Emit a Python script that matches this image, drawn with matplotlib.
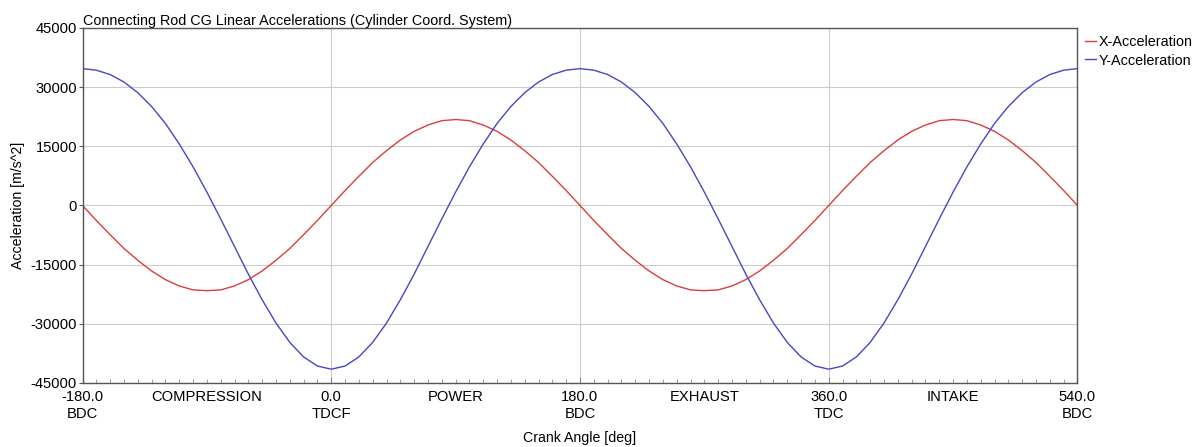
import matplotlib

matplotlib.use("Agg")
import matplotlib.pyplot as plt
import numpy as np
from matplotlib.ticker import FixedLocator, FuncFormatter

plt.rcParams["font.family"] = ["Liberation Sans", "DejaVu Sans"]

# crank angle samples (deg), read every 10 deg
crank_angle = np.arange(-180, 541, 10)

x_accel = [
    0,
    -3800, -7400, -10900, -13900, -16600, -18800, -20400, -21400, -21600,
    -21400, -20400, -18800, -16600, -13900, -10900, -7400, -3800,
    0,
    3800, 7400, 10900, 13900, 16600, 18800, 20400, 21500, 21800,
    21500, 20400, 18800, 16600, 13900, 10900, 7400, 3800,
    0,
    -3800, -7400, -10900, -13900, -16600, -18800, -20400, -21400, -21600,
    -21400, -20400, -18800, -16600, -13900, -10900, -7400, -3800,
    0,
    3800, 7400, 10900, 13900, 16600, 18800, 20400, 21500, 21800,
    21500, 20400, 18800, 16600, 13900, 10900, 7400, 3800,
    0,
]
y_accel = [
    34700, 34300, 33200, 31300, 28600, 25100, 20800, 15600, 9800,
    3400, -3400, -10400, -17400, -23900, -29800, -34700, -38400, -40700,
    -41500,
    -40700, -38400, -34700, -29800, -23900, -17400, -10400, -3400, 3400,
    9800, 15600, 20800, 25100, 28600, 31300, 33200, 34300,
    34700,
    34300, 33200, 31300, 28600, 25100, 20800, 15600, 9800, 3400,
    -3400, -10400, -17400, -23900, -29800, -34700, -38400, -40700,
    -41500,
    -40700, -38400, -34700, -29800, -23900, -17400, -10400, -3400, 3400,
    9800, 15600, 20800, 25100, 28600, 31300, 33200, 34300,
    34700,
]

major_ticks = [-180, 0, 180, 360, 540]
major_labels = ["-180.0\nBDC", "0.0\nTDCF", "180.0\nBDC", "360.0\nTDC", "540.0\nBDC"]
phase_pos = [-90, 90, 270, 450]
phase_names = ["COMPRESSION", "POWER", "EXHAUST", "INTAKE"]
y_ticks = [45000, 30000, 15000, 0, -15000, -30000, -45000]

fig = plt.figure(figsize=(11.94, 4.47), dpi=100)
ax = fig.add_axes([0.0691, 0.1432, 0.8333, 0.7942])

ax.plot(crank_angle, x_accel, color="#dc3c3c", lw=1.0, label="X-Acceleration")
ax.plot(crank_angle, y_accel, color="#4646c8", lw=1.0, label="Y-Acceleration")

ax.set_xlim(-180, 540)
ax.set_ylim(-45000, 45000)

ax.set_xticks(major_ticks)
ax.set_xticklabels(major_labels)
for lab in ax.get_xticklabels():
    lab.set_linespacing(1.3)
ax.xaxis.set_minor_locator(FixedLocator(np.arange(-170, 540, 10)))
phase_map = dict(zip(phase_pos, phase_names))
ax.xaxis.set_minor_formatter(FuncFormatter(lambda v, p: phase_map.get(int(round(v)), "")))
ax.tick_params(axis="x", which="major", length=4, direction="in", color="#888888",
               labelsize=10.6, pad=5)
ax.tick_params(axis="x", which="minor", length=3, direction="in", color="#888888",
               labelsize=10.6, pad=5)

ax.set_yticks(y_ticks)
ax.set_yticklabels([str(v) for v in y_ticks])
ax.tick_params(axis="y", length=3, direction="out", color="#555555", labelsize=10.6, pad=1)

ax.grid(True, which="major", color="#cccccc", lw=0.8)
for s in ax.spines.values():
    s.set_color("#555555")
    s.set_linewidth(1.0)

ax.set_title("Connecting Rod CG Linear Accelerations (Cylinder Coord. System)",
             loc="left", fontsize=10.4, pad=1)
ax.set_xlabel("Crank Angle [deg]", fontsize=10.2, labelpad=7)
ax.set_ylabel("Acceleration [m/s^2]", fontsize=10.2, labelpad=4)

ax.legend(loc="upper left", bbox_to_anchor=(1.0, 1.0), frameon=False, fontsize=10.4,
          handlelength=0.8, handletextpad=0.15, labelspacing=0.3, borderaxespad=0.3,
          borderpad=0.2)

fig.savefig("out.png", dpi=100)
